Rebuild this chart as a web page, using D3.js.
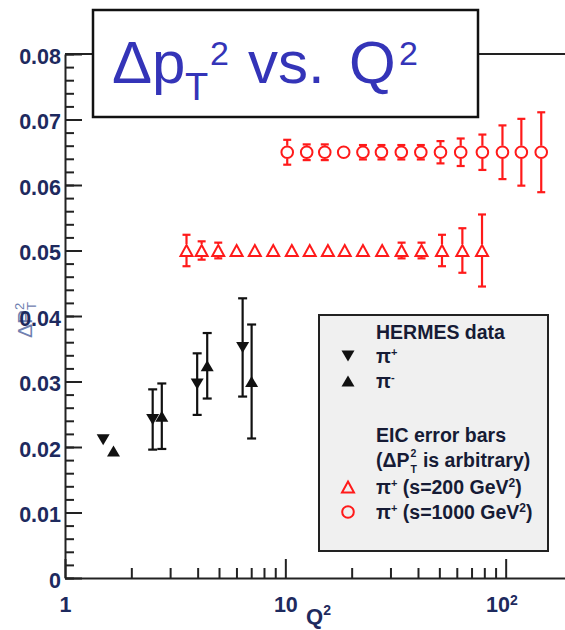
<!DOCTYPE html>
<html lang="en">
<head>
<meta charset="UTF-8">
<title>Δp_T² vs. Q²</title>
<style>
    html, body { margin: 0; padding: 0; background: #fff; overflow: hidden; }
    #main { width: 565px; height: 630px; }
    text { font-family: "Liberation Sans", Arial, sans-serif; }
</style>
</head>
<body>
<div id="main"></div>
<script src="https://d3js.org/d3.v7.min.js"></script>
<script>
// ---- data ----
// HERMES data, pi+ (down triangles) and pi- (up triangles)
const hermesPlusQ2  = [1.49, 2.50, 3.98, 6.40]
const hermesPlusVal = [0.0211, 0.0242, 0.0296, 0.0352]
const hermesPlusErr = [0, 0.0046, 0.0047, 0.0075]

const hermesMinusQ2  = [1.66, 2.75, 4.42, 7.03]
const hermesMinusVal = [0.0194, 0.0247, 0.0324, 0.0300]
const hermesMinusErr = [0, 0.0050, 0.0050, 0.0087]

// EIC projections, pi+ s=200 GeV^2 (open triangles)
const eic200Q2  = [3.56, 4.17, 4.96, 6.01, 7.27, 8.81, 10.7, 12.9, 15.6, 18.6, 22.5, 27.5, 33.7, 41.5, 51.4, 63.6, 78.1]
const eic200Val = [0.05, 0.05, 0.05, 0.05, 0.05, 0.05, 0.05, 0.05, 0.05, 0.05, 0.05, 0.05, 0.05, 0.05, 0.05, 0.05, 0.05]
const eic200Err = [0.0024, 0.0014, 0.0012, 0.0008, 0.0007, 0.0007, 0.0007, 0.0007, 0.0007, 0.0007, 0.0007, 0.0008, 0.0012, 0.0012, 0.0024, 0.0034, 0.0055]

// EIC projections, pi+ s=1000 GeV^2 (open circles)
const eic1000Q2  = [10.2, 12.5, 15.1, 18.4, 22.5, 27.3, 33.6, 41.2, 50.6, 62.5, 78.4, 96.7, 117.8, 145]
const eic1000Val = [0.065, 0.065, 0.065, 0.065, 0.065, 0.065, 0.065, 0.065, 0.065, 0.065, 0.065, 0.065, 0.065, 0.065]
const eic1000Err = [0.0019, 0.0012, 0.0012, 0.0008, 0.0011, 0.0011, 0.0011, 0.0011, 0.0017, 0.0021, 0.0027, 0.0041, 0.0051, 0.0061]

// ticks
const yMajorTicks = [0, 0.01, 0.02, 0.03, 0.04, 0.05, 0.06, 0.07, 0.08]
const xMajorTicks = [1, 10, 100]
const xMajorLabels = ['1', '10', '10']

// ---- container ----
const width = 565
const height = 630
const svg = d3.select('#main').append('svg')
    .attr('width', width)
    .attr('height', height)
    .attr('viewBox', `0 0 ${width} ${height}`)

const labelColor = '#1e2a5e'
const red = '#ff1a1a'

// ---- scales ----
const x = d3.scaleLog().domain([1, 200]).range([65, 572])
const y = d3.scaleLinear().domain([0, 0.08]).range([578, 54])

// y axis title (sits behind the tick labels)
const yt = svg.append('g')
    .attr('transform', `translate(32, 338) rotate(-90)`)
    .attr('fill', '#7080b0')
yt.append('text').attr('font-size', 21).text('ΔP')
yt.append('text').attr('x', 28).attr('y', -8).attr('font-size', 13).text('2')
yt.append('text').attr('x', 28).attr('y', 4).attr('font-size', 13).text('T')

// top frame line
svg.append('line')
    .attr('x1', x(1)).attr('x2', width)
    .attr('y1', y(0.08)).attr('y2', y(0.08))
    .attr('stroke', '#222').attr('stroke-width', 2)

// ---- y axis ----
const yMinor = d3.range(0, 0.0801, 0.002)
svg.append('g')
    .attr('transform', `translate(${x(1)},0)`)
    .call(d3.axisLeft(y).tickValues(yMinor).tickSize(-9).tickFormat(''))
    .call(g => g.select('.domain').remove())
    .call(g => g.selectAll('line').attr('stroke', '#222').attr('stroke-width', 2))

svg.append('g')
    .attr('transform', `translate(${x(1)},0)`)
    .call(d3.axisLeft(y).tickValues(yMajorTicks).tickSize(-17).tickSizeOuter(0).tickPadding(4)
        .tickFormat(d => d === 0 ? '0' : d.toFixed(2)))
    .call(g => g.select('.domain').attr('stroke', '#222').attr('stroke-width', 2))
    .call(g => g.selectAll('line').attr('stroke', '#222').attr('stroke-width', 2))
    .call(g => g.selectAll('text')
        .attr('font-family', '"Liberation Sans", Arial, sans-serif')
        .attr('font-size', 21.5).attr('font-weight', 'bold')
        .attr('fill', labelColor).attr('dy', '0.42em'))

// ---- x axis ----
const xMinor = [2, 3, 4, 5, 6, 7, 8, 9, 20, 30, 40, 50, 60, 70, 80, 90, 200]
svg.append('g')
    .attr('transform', `translate(0,${y(0)})`)
    .call(d3.axisBottom(x).tickValues(xMinor).tickSize(-10).tickFormat(''))
    .call(g => g.select('.domain').remove())
    .call(g => g.selectAll('line').attr('stroke', '#222').attr('stroke-width', 2))

const xAxis = svg.append('g')
    .attr('transform', `translate(0,${y(0)})`)
    .call(d3.axisBottom(x).tickValues(xMajorTicks).tickSize(-19).tickSizeOuter(0).tickPadding(19)
        .tickFormat((d, i) => xMajorLabels[i]))
    .call(g => g.select('.domain').attr('stroke', '#222').attr('stroke-width', 2))
    .call(g => g.selectAll('line').attr('stroke', '#222').attr('stroke-width', 2))
    .call(g => g.selectAll('text')
        .attr('font-family', '"Liberation Sans", Arial, sans-serif')
        .attr('font-size', 21.5).attr('font-weight', 'bold')
        .attr('fill', labelColor))
// superscript on the 10^2 label
xAxis.selectAll('.tick text').filter(d => d === 100)
    .attr('dx', '-0.2em')
    .append('tspan').attr('font-size', 14).attr('dy', '-0.55em').text('2')

// x axis title
const xt = svg.append('text')
    .attr('x', 306).attr('y', 624)
    .attr('font-size', 22).attr('font-weight', 'bold').attr('fill', labelColor)
xt.append('tspan').text('Q')
xt.append('tspan').attr('font-size', 14).attr('dy', -9).text('2')

// ---- marker shapes ----
const triUp = (w, h) => `M0,${-h / 2}L${w / 2},${h / 2}L${-w / 2},${h / 2}Z`
const triDown = (w, h) => `M0,${h / 2}L${w / 2},${-h / 2}L${-w / 2},${-h / 2}Z`

function errorBars(g, q2, val, err, half, cap, color, sw) {
    const rows = q2.map((q, i) => ({ q, v: val[i], e: err[i] }))
    rows.forEach(r => {
        if (!r.e) return
        const cx = x(r.q), cy = y(r.v)
        const top = y(r.v + r.e), bot = y(r.v - r.e)
        if (top < cy - half) {
            g.append('line').attr('x1', cx).attr('x2', cx).attr('y1', top).attr('y2', cy - half)
                .attr('stroke', color).attr('stroke-width', sw)
            g.append('line').attr('x1', cx - cap / 2).attr('x2', cx + cap / 2).attr('y1', top).attr('y2', top)
                .attr('stroke', color).attr('stroke-width', sw)
        }
        if (bot > cy + half) {
            g.append('line').attr('x1', cx).attr('x2', cx).attr('y1', cy + half).attr('y2', bot)
                .attr('stroke', color).attr('stroke-width', sw)
            g.append('line').attr('x1', cx - cap / 2).attr('x2', cx + cap / 2).attr('y1', bot).attr('y2', bot)
                .attr('stroke', color).attr('stroke-width', sw)
        }
    })
}

const plot = svg.append('g')

// EIC s=1000 circles
plot.append('g').selectAll('circle')
    .data(eic1000Q2.map((q, i) => [q, eic1000Val[i]]))
    .join('circle')
    .attr('cx', d => x(d[0])).attr('cy', d => y(d[1])).attr('r', 5.8)
    .attr('fill', 'none').attr('stroke', red).attr('stroke-width', 2)
errorBars(plot.append('g'), eic1000Q2, eic1000Val, eic1000Err, 6.5, 8, red, 2.2)

// EIC s=200 triangles
plot.append('g').selectAll('path')
    .data(eic200Q2.map((q, i) => [q, eic200Val[i]]))
    .join('path')
    .attr('transform', d => `translate(${x(d[0])},${y(d[1])})`)
    .attr('d', triUp(12, 11))
    .attr('fill', 'none').attr('stroke', red).attr('stroke-width', 2).attr('stroke-linejoin', 'miter')
errorBars(plot.append('g'), eic200Q2, eic200Val, eic200Err, 6.5, 8, red, 2.2)

// HERMES
errorBars(plot.append('g'), hermesPlusQ2, hermesPlusVal, hermesPlusErr, 0, 9, '#111', 2.2)
errorBars(plot.append('g'), hermesMinusQ2, hermesMinusVal, hermesMinusErr, 0, 9, '#111', 2.2)
plot.append('g').selectAll('path')
    .data(hermesPlusQ2.map((q, i) => [q, hermesPlusVal[i]]))
    .join('path')
    .attr('transform', d => `translate(${x(d[0])},${y(d[1])})`)
    .attr('d', triDown(13, 11)).attr('fill', '#111')
plot.append('g').selectAll('path')
    .data(hermesMinusQ2.map((q, i) => [q, hermesMinusVal[i]]))
    .join('path')
    .attr('transform', d => `translate(${x(d[0])},${y(d[1])})`)
    .attr('d', triUp(13, 11)).attr('fill', '#111')

// ---- legend ----
const leg = svg.append('g')
leg.append('rect')
    .attr('x', 319).attr('y', 315).attr('width', 229).attr('height', 236)
    .attr('fill', '#f0f0f0').attr('stroke', '#222').attr('stroke-width', 2)

const legText = '#161b35'
const lx = 376
function legLine(yc) {
    return leg.append('text').attr('x', lx).attr('y', yc + 7)
        .attr('font-size', 19.5).attr('font-weight', 'bold').attr('fill', legText)
}
legLine(332).text('HERMES data')
const lp = legLine(356)
lp.append('tspan').text('π')
lp.append('tspan').attr('font-size', 11).attr('dy', -7).text('+')
const lm = legLine(381)
lm.append('tspan').text('π')
lm.append('tspan').attr('font-size', 11).attr('dy', -7).text('-')
legLine(435).text('EIC error bars')
// "(ΔP" with stacked 2 / T, drawn as separate small texts
const la = legLine(460)
la.append('tspan').text('(ΔP')
const laEnd = lx + la.node().getComputedTextLength()
leg.append('text').attr('x', laEnd + 1).attr('y', 457)
    .attr('font-size', 10.5).attr('font-weight', 'bold').attr('fill', legText).text('2')
leg.append('text').attr('x', laEnd + 1).attr('y', 473)
    .attr('font-size', 10.5).attr('font-weight', 'bold').attr('fill', legText).text('T')
leg.append('text').attr('x', laEnd + 8).attr('y', 467)
    .attr('font-size', 19.5).attr('font-weight', 'bold').attr('fill', legText).text(' is arbitrary)')
    .attr('xml:space', 'preserve')
const l2 = legLine(487)
l2.append('tspan').text('π')
l2.append('tspan').attr('font-size', 11).attr('dy', -7).text('+')
l2.append('tspan').attr('dy', 7).text(' (s=200 GeV')
l2.append('tspan').attr('font-size', 12).attr('dy', -7).text('2')
l2.append('tspan').attr('dy', 7).text(')')
const l3 = legLine(512)
l3.append('tspan').text('π')
l3.append('tspan').attr('font-size', 11).attr('dy', -7).text('+')
l3.append('tspan').attr('dy', 7).text(' (s=1000 GeV')
l3.append('tspan').attr('font-size', 12).attr('dy', -7).text('2')
l3.append('tspan').attr('dy', 7).text(')')

leg.append('path').attr('transform', 'translate(348,356)').attr('d', triDown(13, 11)).attr('fill', '#111')
leg.append('path').attr('transform', 'translate(348,381)').attr('d', triUp(13, 11)).attr('fill', '#111')
leg.append('path').attr('transform', 'translate(348,487)').attr('d', triUp(12, 11))
    .attr('fill', 'none').attr('stroke', red).attr('stroke-width', 2)
leg.append('circle').attr('cx', 348).attr('cy', 512).attr('r', 5.8)
    .attr('fill', 'none').attr('stroke', red).attr('stroke-width', 2)

// ---- title box ----
const tb = svg.append('g')
tb.append('rect')
    .attr('x', 93).attr('y', 10).attr('width', 385).attr('height', 107)
    .attr('fill', '#fff').attr('stroke', '#111').attr('stroke-width', 2.5)
const titleColor = '#3434b8'
const tt = (tx, ty, size, s) => tb.append('text').attr('x', tx).attr('y', ty)
    .attr('font-size', size).attr('fill', titleColor).text(s)
tt(112, 83, 60, 'Δp')
tt(185, 100, 38, 'T')
tt(210, 65, 34, '2')
tt(248, 83, 60, 'vs.')
tt(349, 83, 60, 'Q')
tt(399, 65, 34, '2')
</script>
</body>
</html>
